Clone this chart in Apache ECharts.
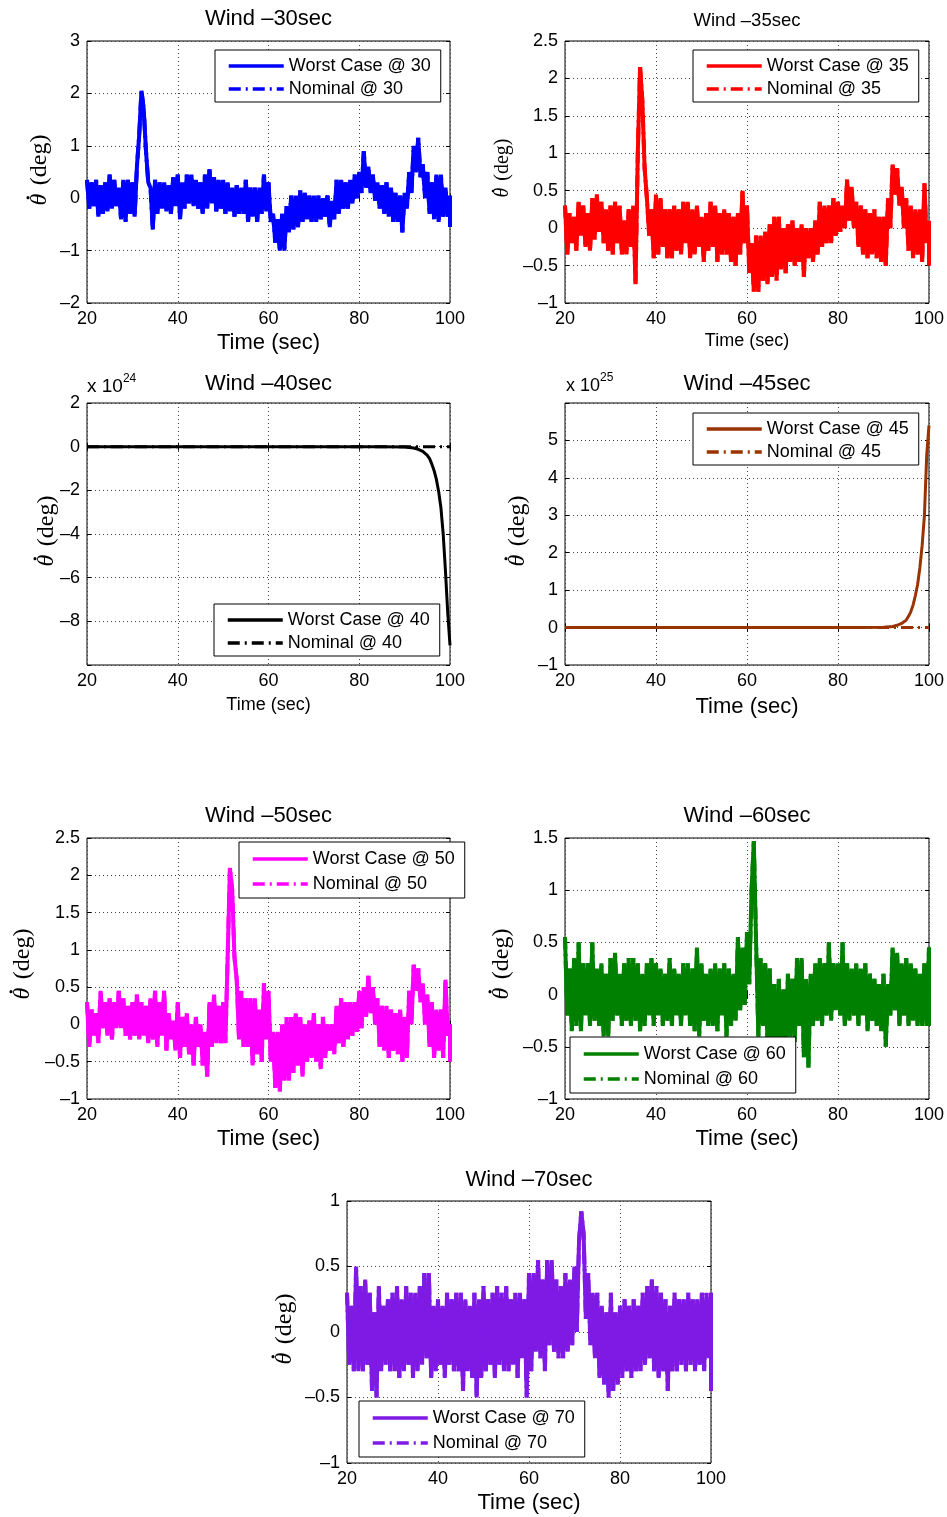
<!DOCTYPE html>
<html><head><meta charset="utf-8">
<script src="https://cdn.jsdelivr.net/npm/echarts@6/dist/echarts.min.js"></script>
<style>html,body{margin:0;padding:0;background:#fff}#c{width:947px;height:1517px}</style>
</head><body><div id="c"></div>
<script>
// Noisy signals: fast oscillation read as alternating samples,
// "hi" at t (whole seconds 20..100) and "lo" at t + 0.5 s.
const tEnv = []; for (let i = 0; i <= 80; i++) tEnv.push(20 + i);

const hi30 = [
 0.35,0.3,0.35,0.25,0.3,0.45,0.35,0.2,0.35,0.35,
 0.3,0.6,2.05,0.9,0.2,0.35,0.3,0.3,0.25,0.4,
 0.45,0.3,0.45,0.45,0.35,0.3,0.45,0.55,0.4,0.35,
 0.35,0.3,0.2,0.25,0.2,0.35,0.2,0.2,0.2,0.45,
 0.3,-0.3,-0.4,-0.3,-0.15,0.05,0.05,0.15,0.1,0.05,
 0.05,0.05,0.0,0.05,-0.05,0.35,0.35,0.3,0.35,0.45,
 0.5,0.9,0.6,0.45,0.3,0.25,0.3,0.2,0.1,0.05,
 0.1,0.5,1.0,1.15,0.65,0.5,0.3,0.45,0.45,0.2,
 0.05];
const lo30 = [
 -0.2,-0.15,-0.35,-0.3,-0.25,-0.2,-0.15,-0.4,-0.45,-0.3,
 -0.35,1.2,1.7,0.3,-0.6,-0.3,-0.2,-0.25,-0.3,-0.15,
 -0.4,-0.2,-0.1,-0.15,-0.2,-0.3,-0.2,-0.1,-0.25,-0.2,
 -0.3,-0.25,-0.35,-0.3,-0.3,-0.45,-0.35,-0.45,-0.3,-0.25,
 -0.45,-0.85,-1.0,-1.0,-0.65,-0.6,-0.55,-0.45,-0.4,-0.45,
 -0.45,-0.4,-0.35,-0.55,-0.4,-0.3,-0.2,-0.2,-0.1,0.0,
 0.1,0.2,0.1,-0.05,-0.2,-0.3,-0.35,-0.45,-0.45,-0.65,
 -0.2,0.1,0.5,0.4,0.0,-0.3,-0.4,-0.45,-0.35,-0.35,
 -0.55];

const hi35 = [
 0.3,0.2,0.15,0.35,0.3,0.2,0.4,0.45,0.35,0.25,
 0.3,0.35,0.3,0.1,0.25,0.3,1.0,1.7,0.4,0.25,
 0.45,0.4,0.25,0.25,0.3,0.25,0.35,0.35,0.25,0.3,
 0.15,0.2,0.35,0.3,0.2,0.25,0.2,0.15,0.2,0.5,
 0.3,-0.2,-0.1,-0.1,-0.05,0.05,0.15,0.15,0.0,0.05,
 0.1,0.0,0.05,0.0,0.0,0.1,0.35,0.3,0.3,0.4,
 0.35,0.3,0.65,0.55,0.35,0.3,0.25,0.2,0.25,0.15,
 0.15,0.4,0.85,0.8,0.55,0.4,0.3,0.25,0.25,0.6,
 0.1];
const lo35 = [
 -0.35,-0.2,-0.3,-0.1,-0.25,-0.3,-0.15,-0.05,-0.2,-0.3,
 -0.35,-0.2,-0.35,-0.35,-0.25,-0.75,2.15,0.8,-0.1,-0.4,
 -0.35,-0.25,-0.4,-0.4,-0.3,-0.35,-0.2,-0.4,-0.35,-0.25,
 -0.45,-0.3,-0.25,-0.45,-0.35,-0.35,-0.45,-0.5,-0.35,-0.2,
 -0.6,-0.85,-0.85,-0.7,-0.75,-0.65,-0.7,-0.55,-0.6,-0.45,
 -0.5,-0.45,-0.65,-0.4,-0.45,-0.35,-0.25,-0.2,-0.2,-0.1,
 -0.05,0.0,0.1,0.0,-0.25,-0.35,-0.4,-0.35,-0.4,-0.45,
 -0.5,0.0,0.45,0.3,0.0,-0.3,-0.4,-0.35,-0.45,-0.2,
 -0.5];

// x 10^24
const time40 = [20,85,90,92,93,94,95,95.5,96,96.5,97,97.5,98,98.5,99,99.5,100];
const worst40 = [0,0,-0.02,-0.06,-0.12,-0.22,-0.4,-0.55,-0.8,-1.1,-1.5,-2.05,-2.8,-4.0,-5.7,-7.6,-9.1];
const timeNom40 = [20,100];
const nominal40 = [0,0];

// x 10^25
const time45 = [20,85,90,92,93,94,95,95.5,96,96.5,97,97.5,98,98.5,99,99.5,100];
const worst45 = [0,0,0.01,0.03,0.06,0.11,0.2,0.3,0.42,0.6,0.85,1.15,1.6,2.2,3.0,4.6,5.4];
const timeNom45 = [20,100];
const nominal45 = [0,0];

const hi50 = [
 0.3,0.2,0.15,0.45,0.3,0.35,0.3,0.45,0.35,0.25,
 0.3,0.4,0.3,0.25,0.35,0.45,0.3,0.45,0.15,0.05,
 0.3,0.1,0.15,0.0,0.1,0.0,-0.1,0.3,0.4,0.25,
 0.3,0.9,1.8,0.6,0.45,0.35,0.35,0.35,0.2,0.55,
 0.45,-0.1,-0.1,0.0,0.1,0.1,0.15,0.1,0.0,0.05,
 0.15,0.0,0.1,0.0,0.0,0.25,0.35,0.3,0.3,0.3,
 0.45,0.5,0.65,0.5,0.35,0.25,0.25,0.2,0.15,0.2,
 0.1,0.45,0.8,0.75,0.55,0.4,0.3,0.2,0.2,0.6,
 0.0];
const lo50 = [
 -0.3,-0.15,-0.25,-0.05,-0.15,-0.2,-0.05,-0.05,-0.15,-0.2,
 -0.15,-0.2,-0.15,-0.25,-0.2,-0.3,-0.15,-0.35,-0.2,-0.35,
 -0.45,-0.3,-0.4,-0.55,-0.3,-0.55,-0.7,-0.3,-0.25,-0.25,
 -0.25,2.1,0.9,-0.2,-0.3,-0.3,-0.55,-0.4,-0.5,-0.2,
 -0.5,-0.85,-0.9,-0.75,-0.75,-0.65,-0.55,-0.7,-0.5,-0.45,
 -0.5,-0.6,-0.45,-0.35,-0.4,-0.25,-0.3,-0.2,-0.15,-0.1,
 -0.05,0.1,0.15,0.0,-0.3,-0.35,-0.45,-0.35,-0.4,-0.5,
 -0.45,0.0,0.45,0.3,0.0,-0.3,-0.45,-0.35,-0.45,-0.15,
 -0.5];

const hi60 = [
 0.55,0.25,0.35,0.5,0.3,0.3,0.5,0.25,0.3,0.2,
 0.35,0.4,0.2,0.3,0.35,0.35,0.3,0.2,0.3,0.35,
 0.3,0.25,0.2,0.35,0.25,0.2,0.3,0.3,0.25,0.45,
 0.3,0.2,0.25,0.3,0.25,0.3,0.25,0.2,0.55,0.45,
 0.6,1.0,0.5,0.35,0.3,0.25,0.1,0.15,0.05,0.2,
 0.15,0.35,0.35,0.15,0.2,0.3,0.35,0.3,0.5,0.3,
 0.3,0.5,0.3,0.25,0.3,0.25,0.3,0.2,0.15,0.1,
 0.2,0.1,0.45,0.4,0.3,0.35,0.3,0.25,0.2,0.3,
 0.45];
const lo60 = [
 -0.2,-0.35,-0.3,-0.35,-0.2,-0.3,-0.25,-0.3,-0.4,-0.4,
 -0.25,-0.2,-0.3,-0.25,-0.3,-0.25,-0.35,-0.3,-0.2,-0.3,
 -0.2,-0.3,-0.25,-0.3,-0.2,-0.3,-0.2,-0.3,-0.35,-0.4,
 -0.25,-0.3,-0.3,-0.35,-0.2,-0.4,-0.3,-0.25,-0.15,-0.1,
 0.1,1.47,-0.4,-0.3,-0.45,-0.55,-0.65,-0.5,-0.5,-0.4,
 -0.45,-0.3,-0.6,-0.7,-0.3,-0.25,-0.3,-0.2,-0.25,-0.15,
 -0.2,-0.3,-0.25,-0.2,-0.3,-0.2,-0.35,-0.25,-0.3,-0.35,
 -0.5,-0.2,-0.15,-0.3,-0.2,-0.3,-0.25,-0.3,-0.3,-0.3,
 -0.3];

const hi70 = [
 0.3,0.2,0.5,0.35,0.4,0.3,0.15,0.35,0.2,0.25,
 0.3,0.35,0.25,0.35,0.3,0.3,0.35,0.45,0.45,0.2,
 0.25,0.2,0.3,0.25,0.3,0.3,0.25,0.2,0.3,0.25,
 0.35,0.25,0.3,0.35,0.3,0.35,0.25,0.3,0.3,0.25,
 0.45,0.45,0.55,0.4,0.55,0.55,0.4,0.35,0.45,0.4,
 0.5,0.7,0.75,0.45,0.3,0.3,0.2,0.15,0.3,0.15,
 0.2,0.25,0.2,0.25,0.2,0.3,0.35,0.4,0.35,0.3,
 0.25,0.2,0.3,0.25,0.25,0.3,0.25,0.25,0.3,0.3,
 0.3];
const lo70 = [
 -0.25,-0.3,-0.3,-0.3,-0.25,-0.45,-0.5,-0.3,-0.25,-0.3,
 -0.3,-0.35,-0.3,-0.25,-0.35,-0.3,-0.25,-0.2,-0.35,-0.3,
 -0.25,-0.35,-0.25,-0.3,-0.3,-0.45,-0.3,-0.35,-0.5,-0.35,
 -0.3,-0.25,-0.35,-0.25,-0.3,-0.3,-0.25,-0.35,-0.2,-0.5,
 -0.3,-0.15,-0.2,-0.3,-0.1,-0.15,-0.2,-0.2,-0.15,-0.1,
 0.0,0.92,0.1,-0.1,-0.2,-0.35,-0.4,-0.5,-0.45,-0.4,
 -0.35,-0.3,-0.35,-0.3,-0.3,-0.25,-0.2,-0.3,-0.35,-0.3,
 -0.45,-0.3,-0.3,-0.25,-0.3,-0.25,-0.3,-0.25,-0.3,-0.2,
 -0.45];

// interleave hi (at t) and lo (at t + 0.5 s) samples
function band(hi, lo) {
  const d = [];
  tEnv.forEach((t, k) => { d.push([t, hi[k]]); d.push([k < tEnv.length - 1 ? t + 0.5 : t, lo[k]]); });
  return d;
}
const pairs = (xs, ys) => xs.map((t, k) => [t, ys[k]]);

const xTicks = {min: 20, max: 100, interval: 20};

const panels = [
 {title:'Wind –30sec', tSize:22, tx:268.5, ty:18.5, xl:'Time (sec)', xlSize:22, xly:343, ylx:40, yly:170, ylSize:24,
  grid:{left:87, top:41, width:363, height:262}, y:{min:-2, max:3, interval:1}, hide:[], lw:4,
  color:'#0000ff', wdata:band(hi30, lo30), ndata:band(hi30, lo30), wname:'Worst Case @ 30', nname:'Nominal @ 30',
  leg:{left:215, top:50}, gap:1, pad:[5,10,2,12]},
 {title:'Wind –35sec', tSize:18.5, tx:747, ty:21, xl:'Time (sec)', xlSize:18, xly:341, ylx:503, yly:168, ylSize:20,
  grid:{left:565, top:41, width:364, height:262}, y:{min:-1, max:2.5, interval:0.5}, hide:[], lw:4,
  color:'#ff0000', wdata:band(hi35, lo35), ndata:band(hi35, lo35), wname:'Worst Case @ 35', nname:'Nominal @ 35',
  leg:{left:693, top:50}, gap:1, pad:[5,10,2,12]},
 {title:'Wind –40sec', tSize:22, tx:268.5, ty:383.5, xl:'Time (sec)', xlSize:18, xly:705, ylx:47, yly:531, ylSize:24,
  grid:{left:87, top:403, width:363, height:262}, y:{min:-10, max:2, interval:2}, hide:[-10], lw:3,
  color:'#000000', wdata:pairs(time40, worst40), ndata:pairs(timeNom40, nominal40), wname:'Worst Case @ 40', nname:'Nominal @ 40',
  leg:{left:214, top:604}, gap:1, pad:[5,10,2,12], mult:{x:87, y:387, size:19, exp:'24'}},
 {title:'Wind –45sec', tSize:22, tx:747, ty:384, xl:'Time (sec)', xlSize:22, xly:707, ylx:518, yly:531, ylSize:24,
  grid:{left:565, top:403, width:364, height:262}, y:{min:-1, max:6, interval:1}, hide:[6], lw:3,
  color:'#993300', wdata:pairs(time45, worst45), ndata:pairs(timeNom45, nominal45), wname:'Worst Case @ 45', nname:'Nominal @ 45',
  leg:{left:693, top:413}, gap:1, pad:[5,10,2,12], mult:{x:566, y:386, size:18, exp:'25'}},
 {title:'Wind –50sec', tSize:22, tx:268.5, ty:815.5, xl:'Time (sec)', xlSize:22, xly:1139, ylx:23, yly:964, ylSize:24,
  grid:{left:87, top:838, width:363, height:261}, y:{min:-1, max:2.5, interval:0.5}, hide:[], lw:4,
  color:'#ff00ff', wdata:band(hi50, lo50), ndata:band(hi50, lo50), wname:'Worst Case @ 50', nname:'Nominal @ 50',
  leg:{left:239, top:842}, gap:3, pad:[6,10,3,12]},
 {title:'Wind –60sec', tSize:22, tx:747, ty:815.5, xl:'Time (sec)', xlSize:22, xly:1139, ylx:502, yly:964, ylSize:24,
  grid:{left:565, top:838, width:364, height:261}, y:{min:-1, max:1.5, interval:0.5}, hide:[], lw:4,
  color:'#008000', wdata:band(hi60, lo60), ndata:band(hi60, lo60), wname:'Worst Case @ 60', nname:'Nominal @ 60',
  leg:{left:570, top:1037}, gap:3, pad:[6,10,3,12]},
 {title:'Wind –70sec', tSize:22, tx:529, ty:1179.5, xl:'Time (sec)', xlSize:22, xly:1503, ylx:285, yly:1329, ylSize:24,
  grid:{left:347, top:1201, width:364, height:262}, y:{min:-1, max:1, interval:0.5}, hide:[], lw:4,
  color:'#7f1ae5', wdata:band(hi70, lo70), ndata:band(hi70, lo70), wname:'Worst Case @ 70', nname:'Nominal @ 70',
  leg:{left:359, top:1401}, gap:3, pad:[6,10,3,12]}
];

const FONT = '"Liberation Sans", Arial, Helvetica, sans-serif';
const SERIF = '"Liberation Serif", "DejaVu Serif", serif';
const DASHDOT = [12, 5, 2, 5];
const fmt = hide => v => hide.some(h => Math.abs(h - v) < 1e-9) ? '' : String(+(+v).toFixed(2)).replace('-', '–');

function yLabel(p) {
  const fs = p.ylSize;
  const thW = 0.52 * fs, sp = 0.32 * fs, degW = 2.11 * fs;
  const x0 = -(thW + sp + degW) / 2;
  return {type:'group', x:p.ylx, y:p.yly, rotation:Math.PI / 2, children:[
    {type:'text', x:x0, y:0, style:{text:'θ', fontSize:fs, fontFamily:SERIF, fontStyle:'italic', fill:'#000', align:'left', verticalAlign:'middle'}},
    {type:'text', x:x0 + thW + sp, y:0, style:{text:'(deg)', fontSize:fs, fontFamily:SERIF, fill:'#000', align:'left', verticalAlign:'middle'}},
    {type:'circle', shape:{cx:x0 + thW * 0.62, cy:-0.5 * fs, r:0.065 * fs}, style:{fill:'#000'}}
  ]};
}

const option = {animation:false, backgroundColor:'#fff', grid:[], xAxis:[], yAxis:[], series:[], legend:[], graphic:[]};

panels.forEach((p, i) => {
  option.grid.push(Object.assign({show:true, borderColor:'#000', borderWidth:1, backgroundColor:'transparent'}, p.grid));
  const tick = {show:true, inside:true, length:4, lineStyle:{color:'#000', width:1}};
  const split = {show:true, lineStyle:{color:'#444', width:1, type:[1,3]}};
  option.xAxis.push({type:'value', gridIndex:i, position:'bottom', min:xTicks.min, max:xTicks.max, interval:xTicks.interval,
    axisLine:{show:false}, axisTick:tick, splitLine:split,
    axisLabel:{fontSize:18, color:'#000', fontFamily:FONT, margin:7, formatter:fmt([])}});
  option.xAxis.push({type:'value', gridIndex:i, position:'top', min:xTicks.min, max:xTicks.max, interval:xTicks.interval,
    axisLine:{show:false}, axisTick:tick, splitLine:{show:false}, axisLabel:{show:false}});
  option.yAxis.push({type:'value', gridIndex:i, position:'left', min:p.y.min, max:p.y.max, interval:p.y.interval,
    axisLine:{show:false}, axisTick:tick, splitLine:split,
    axisLabel:{fontSize:18, color:'#000', fontFamily:FONT, margin:7, formatter:fmt(p.hide)}});
  option.yAxis.push({type:'value', gridIndex:i, position:'right', min:p.y.min, max:p.y.max, interval:p.y.interval,
    axisLine:{show:false}, axisTick:tick, splitLine:{show:false}, axisLabel:{show:false}});

  option.series.push({type:'line', name:p.wname, xAxisIndex:2*i, yAxisIndex:2*i, symbol:'none', showSymbol:false,
    data:p.wdata, lineStyle:{color:p.color, width:p.lw}, itemStyle:{color:p.color}, z:2});
  option.series.push({type:'line', name:p.nname, xAxisIndex:2*i, yAxisIndex:2*i, symbol:'none', showSymbol:false,
    data:p.ndata, lineStyle:{color:p.color, width:p.lw, type:DASHDOT}, itemStyle:{color:p.color}, z:3});

  option.legend.push({left:p.leg.left, top:p.leg.top, orient:'vertical', data:[p.wname, p.nname],
    backgroundColor:'#fff', borderColor:'#000', borderWidth:1, borderRadius:0, padding:p.pad,
    itemGap:p.gap, itemWidth:55, itemHeight:14, selectedMode:false,
    itemStyle:{opacity:0}, lineStyle:{width:3.5},
    textStyle:{fontSize:18, color:'#000', fontFamily:FONT, lineHeight:22}});

  option.graphic.push({type:'text', x:p.tx, y:p.ty, style:{text:p.title, fontSize:p.tSize, fontFamily:FONT, fill:'#000', align:'center', verticalAlign:'middle'}});
  option.graphic.push({type:'text', x:p.tx, y:p.xly, style:{text:p.xl, fontSize:p.xlSize, fontFamily:FONT, fill:'#000', align:'center', verticalAlign:'middle'}});
  option.graphic.push(yLabel(p));
  if (p.mult) {
    option.graphic.push({type:'text', x:p.mult.x, y:p.mult.y,
      style:{text:'x 10{s|' + p.mult.exp + '}', fontSize:p.mult.size, fontFamily:FONT, fill:'#000', align:'left', verticalAlign:'middle', lineHeight:28,
        rich:{s:{fontSize:12, fontFamily:FONT, fill:'#000', verticalAlign:'top', lineHeight:14}}}});
  }
});

const chart = echarts.init(document.getElementById('c'), null, {renderer:'canvas'});
chart.setOption(option);
</script>
</body></html>
